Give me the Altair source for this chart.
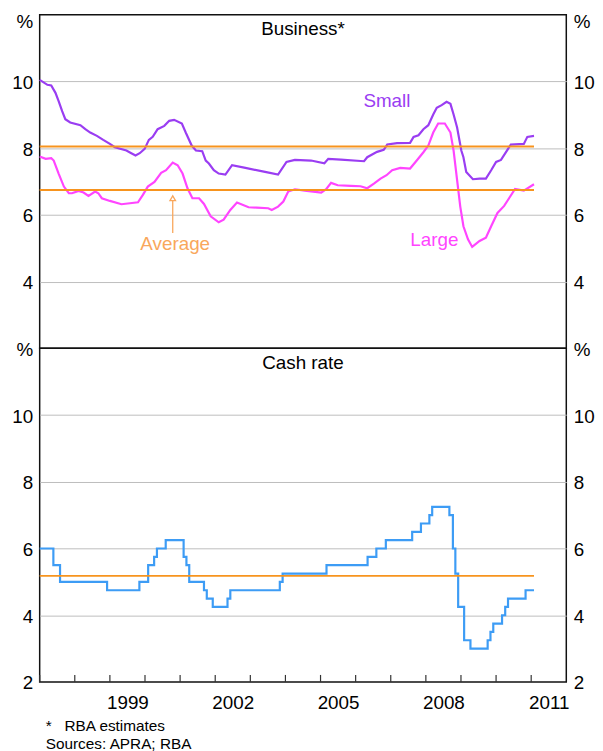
import altair as alt
import pandas as pd

# ---------------- data ----------------
small_years = [1997.00, 1997.22, 1997.33, 1997.45, 1997.54, 1997.64, 1997.73, 1997.87, 1998.16, 1998.30,
               1998.44, 1998.63, 1998.81, 1999.00, 1999.14, 1999.47, 1999.61, 1999.73, 1999.85, 1999.99,
               2000.11, 2000.22, 2000.36, 2000.55, 2000.69, 2000.83, 2001.05, 2001.16, 2001.33, 2001.45,
               2001.63, 2001.73, 2001.82, 2001.96, 2002.10, 2002.29, 2002.48, 2002.86, 2003.42, 2003.79,
               2004.03, 2004.27, 2004.73, 2005.11, 2005.22, 2005.58, 2006.24, 2006.33, 2006.61, 2006.80,
               2006.90, 2007.18, 2007.55, 2007.65, 2007.79, 2007.93, 2008.07, 2008.21, 2008.31, 2008.45,
               2008.59, 2008.70, 2008.79, 2008.89, 2009.01, 2009.07, 2009.15, 2009.34, 2009.53, 2009.71,
               2009.86, 2010.00, 2010.14, 2010.30, 2010.42, 2010.79, 2010.89, 2011.08]
small_rates = [10.05, 9.90, 9.88, 9.66, 9.41, 9.11, 8.87, 8.77, 8.69, 8.57,
               8.47, 8.37, 8.25, 8.13, 8.03, 7.93, 7.85, 7.78, 7.85, 7.98,
               8.25, 8.34, 8.57, 8.67, 8.82, 8.85, 8.74, 8.47, 8.08, 7.93,
               7.91, 7.63, 7.54, 7.34, 7.24, 7.21, 7.49, 7.41, 7.29, 7.21,
               7.59, 7.65, 7.63, 7.55, 7.68, 7.66, 7.61, 7.73, 7.89, 7.95,
               8.11, 8.15, 8.16, 8.34, 8.39, 8.57, 8.69, 9.01, 9.21, 9.29,
               9.39, 9.33, 9.01, 8.62, 7.93, 7.73, 7.29, 7.07, 7.09, 7.09,
               7.34, 7.59, 7.65, 7.91, 8.11, 8.13, 8.34, 8.37]

large_years = [1997.00, 1997.17, 1997.33, 1997.40, 1997.54, 1997.69, 1997.83, 1997.92, 1998.11, 1998.25,
               1998.39, 1998.58, 1998.67, 1998.77, 1999.00, 1999.33, 1999.57, 1999.80, 1999.94, 2000.08,
               2000.27, 2000.46, 2000.60, 2000.79, 2000.93, 2001.07, 2001.21, 2001.35, 2001.54, 2001.68,
               2001.87, 2002.10, 2002.24, 2002.43, 2002.62, 2002.95, 2003.18, 2003.51, 2003.61, 2003.79,
               2003.94, 2004.08, 2004.27, 2004.55, 2005.02, 2005.16, 2005.30, 2005.49, 2005.86, 2006.14,
               2006.33, 2006.52, 2006.71, 2006.88, 2007.04, 2007.27, 2007.55, 2007.74, 2007.93, 2008.07,
               2008.21, 2008.35, 2008.54, 2008.70, 2008.79, 2008.89, 2008.98, 2009.07, 2009.20, 2009.32,
               2009.53, 2009.71, 2009.86, 2010.04, 2010.23, 2010.37, 2010.54, 2010.79, 2011.08]
large_rates = [7.75, 7.68, 7.70, 7.63, 7.24, 6.85, 6.65, 6.65, 6.72, 6.67,
               6.57, 6.70, 6.65, 6.50, 6.42, 6.32, 6.35, 6.38, 6.60, 6.85,
               6.99, 7.26, 7.34, 7.57, 7.49, 7.24, 6.80, 6.50, 6.50, 6.33,
               5.96, 5.78, 5.86, 6.15, 6.37, 6.23, 6.22, 6.20, 6.15, 6.25,
               6.40, 6.70, 6.77, 6.73, 6.67, 6.77, 6.96, 6.89, 6.87, 6.86,
               6.80, 6.94, 7.09, 7.19, 7.34, 7.41, 7.39, 7.63, 7.88, 8.08,
               8.47, 8.74, 8.74, 8.47, 7.93, 7.04, 6.25, 5.66, 5.27, 5.04,
               5.22, 5.32, 5.66, 6.06, 6.27, 6.50, 6.78, 6.73, 6.92]

cash_years = [1997.00, 1997.39, 1997.58, 1998.92, 1999.84, 2000.09, 2000.26, 2000.34, 2000.59, 2001.10,
              2001.18, 2001.26, 2001.68, 2001.76, 2001.93, 2002.35, 2002.43, 2003.84, 2003.92, 2005.17,
              2006.34, 2006.59, 2006.86, 2007.61, 2007.86, 2008.10, 2008.18, 2008.67, 2008.77, 2008.84,
              2008.92, 2009.09, 2009.27, 2009.76, 2009.84, 2009.92, 2010.17, 2010.26, 2010.34, 2010.84,
              2011.08]
cash_rates = [6.00, 5.50, 5.00, 4.75, 5.00, 5.50, 5.75, 6.00, 6.25, 5.75,
              5.50, 5.00, 4.75, 4.50, 4.25, 4.50, 4.75, 5.00, 5.25, 5.50,
              5.75, 6.00, 6.25, 6.50, 6.75, 7.00, 7.25, 7.00, 6.00, 5.25,
              4.25, 3.25, 3.00, 3.25, 3.50, 3.75, 4.00, 4.25, 4.50, 4.75,
              4.75]

avg_small = 8.05
avg_large = 6.75
avg_cash = 5.18
avg_start = 1997.0
avg_end = 2011.08

x_ticks = [1997, 1998, 1999, 2000, 2001, 2002, 2003, 2004, 2005, 2006, 2007, 2008, 2009, 2010, 2011]
x_labels = [1999, 2002, 2005, 2008, 2011]
y_ticks = [2, 4, 6, 8, 10, 12]

panel_titles = ["Business*", "Cash rate"]
footnotes = ["*\u00a0\u00a0\u00a0RBA estimates", "Sources: APRA; RBA"]

# annotation anchors (data units)
ann_small = {"label": "Small", "year": 2006.89, "rate": 9.42}
ann_large = {"label": "Large", "year": 2008.24, "rate": 5.25}
ann_avg = {"label": "Average", "year": 2000.86, "rate": 5.13}
arrow = {"year": 2000.79, "lo": 5.46, "hi": 6.43, "head": 6.50}

# ---------------- styling ----------------
FONT = "Arial, Liberation Sans, sans-serif"
FS = 19
PURPLE = "#9a3df2"
MAGENTA = "#ff45ff"
ORANGE = "#f7941e"
ORANGE_LIGHT = "#f9a75c"
BLUE = "#3d9cf5"
GRID = "#bdbdbd"
W, H = 532, 337
TICK_LEN = 0.21  # inward x-tick length, in y-axis units

xscale = alt.Scale(domain=[1997, 2012], nice=False, zero=False)
yscale = alt.Scale(domain=[2, 12], nice=False, zero=False)


def y_axis(orient, top_panel, grid):
    if top_panel:
        expr = "datum.value == 12 ? '%' : (datum.value == 2 ? '' : datum.label)"
    else:
        expr = "datum.value == 12 ? '%' : datum.label"
    kw = dict(orient=orient, values=y_ticks, title=None, ticks=False, domain=False,
              labelExpr=expr, labelFont=FONT, labelFontSize=FS, labelColor="#000",
              labelPadding=7, labelFlush=False, labelOverlap=False, grid=grid)
    if grid:
        kw["gridColor"] = {"condition": {"test": "datum.value == 2 || datum.value == 12",
                                         "value": "transparent"}, "value": GRID}
        kw["gridWidth"] = 1
    if top_panel:
        kw["labelBaseline"] = {"condition": {"test": "datum.value == 12", "value": "top"},
                               "value": "middle"}
        kw["labelOffset"] = {"condition": {"test": "datum.value == 12", "value": -2},
                             "value": 1}
    else:
        kw["labelOffset"] = 1
    return alt.Axis(**kw)


label_expr_x = "indexof(" + str(x_labels) + ", datum.value) >= 0 ? '' + datum.value : ''"


def x_axis_bottom():
    return alt.Axis(
        values=x_ticks, orient="bottom", ticks=False, domain=False, grid=False, title=None,
        labelExpr=label_expr_x, format="d",
        labelOffset=17.7, labelPadding=12, labelFont=FONT, labelFontSize=FS,
        labelColor="#000", labelFlush=False, labelOverlap=False,
    )


def panel_title(text, offset):
    return alt.TitleParams(text, offset=offset, fontSize=FS, font=FONT, fontWeight="normal",
                           color="#000", anchor="middle", frame="group")


# ---------------- top panel ----------------
df_bus = pd.concat([
    pd.DataFrame({"year": small_years, "rate": small_rates, "series": "Small"}),
    pd.DataFrame({"year": large_years, "rate": large_rates, "series": "Large"}),
])
df_bus_avg = pd.DataFrame({"start": [avg_start, avg_start], "end": [avg_end, avg_end],
                           "avg": [avg_small, avg_large]})

bus_lines = alt.Chart(df_bus).mark_line(strokeWidth=2.2).encode(
    x=alt.X("year:Q", scale=xscale, axis=None),
    y=alt.Y("rate:Q", scale=yscale, axis=y_axis("left", True, True)),
    color=alt.Color("series:N", scale=alt.Scale(domain=["Small", "Large"], range=[PURPLE, MAGENTA]),
                    legend=None),
)
bus_avg = alt.Chart(df_bus_avg).mark_rule(color=ORANGE, strokeWidth=2).encode(
    x=alt.X("start:Q", scale=xscale, axis=None),
    x2="end:Q",
    y=alt.Y("avg:Q", scale=yscale, axis=y_axis("right", True, False)),
)


def label_layer(ann, color):
    return alt.Chart(pd.DataFrame([ann])).mark_text(
        font=FONT, fontSize=FS, color=color, align="center", baseline="middle"
    ).encode(
        x=alt.X("year:Q", scale=xscale, axis=None),
        y=alt.Y("rate:Q", scale=yscale, axis=None),
        text="label:N",
    )


df_arrow = pd.DataFrame([arrow])
arrow_line = alt.Chart(df_arrow).mark_rule(color=ORANGE_LIGHT, strokeWidth=1.3).encode(
    x=alt.X("year:Q", scale=xscale, axis=None),
    y=alt.Y("lo:Q", scale=yscale, axis=None),
    y2="hi:Q",
)
arrow_head = alt.Chart(df_arrow).mark_point(
    shape="triangle-up", filled=False, color=ORANGE_LIGHT, size=32, strokeWidth=1.3, opacity=1
).encode(
    x=alt.X("year:Q", scale=xscale, axis=None),
    y=alt.Y("head:Q", scale=yscale, axis=None),
)

top = alt.layer(
    bus_lines, bus_avg,
    label_layer(ann_small, PURPLE), label_layer(ann_large, MAGENTA),
    label_layer(ann_avg, ORANGE_LIGHT), arrow_line, arrow_head,
).resolve_scale(y="independent").properties(width=W, height=H, title=panel_title(panel_titles[0], -26))

# ---------------- bottom panel ----------------
df_cash = pd.DataFrame({"year": cash_years, "rate": cash_rates})
df_cash_avg = pd.DataFrame({"start": [avg_start], "end": [avg_end], "avg": [avg_cash]})
df_ticks = pd.DataFrame({"year": x_ticks, "base": 2.0, "tip": 2.0 + TICK_LEN})

cash_line = alt.Chart(df_cash).mark_line(strokeWidth=2.2, color=BLUE, interpolate="step-after").encode(
    x=alt.X("year:Q", scale=xscale, axis=x_axis_bottom()),
    y=alt.Y("rate:Q", scale=yscale, axis=y_axis("left", False, True)),
)
cash_avg = alt.Chart(df_cash_avg).mark_rule(color=ORANGE, strokeWidth=2).encode(
    x=alt.X("start:Q", scale=xscale, axis=x_axis_bottom()),
    x2="end:Q",
    y=alt.Y("avg:Q", scale=yscale, axis=y_axis("right", False, False)),
)
x_tick_marks = alt.Chart(df_ticks).mark_rule(color="#333333", strokeWidth=1.2).encode(
    x=alt.X("year:Q", scale=xscale, axis=x_axis_bottom()),
    y=alt.Y("base:Q", scale=yscale, axis=None),
    y2="tip:Q",
)

bottom = alt.layer(cash_line, cash_avg, x_tick_marks).resolve_scale(y="independent").properties(
    width=W, height=H, title=panel_title(panel_titles[1], -33))

chart = alt.vconcat(top, bottom, spacing=0, bounds="flush").properties(
    padding={"left": 3, "top": 0, "right": 0, "bottom": 4},
    background="white",
    title=alt.TitleParams(footnotes, orient="bottom", anchor="start", fontSize=15.5, font=FONT,
                          fontWeight="normal", color="#000", lineHeight=17.5, offset=6, dx=35),
).configure_view(stroke="#111", strokeWidth=1.5)

chart.save("out.html", embed_options={"renderer": "svg", "actions": False})
